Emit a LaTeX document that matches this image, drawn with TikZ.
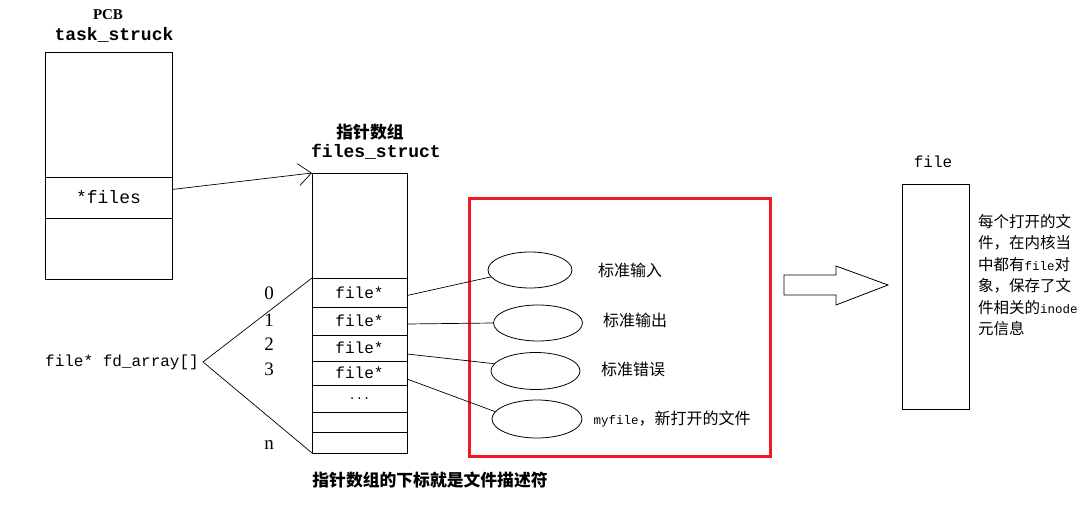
\documentclass[tikz,border=0pt]{standalone}
\usepackage{fontspec}
\setmainfont{Liberation Serif}
\setmonofont{Liberation Mono}
\newfontfamily\cjk{Noto Sans CJK SC}
\usetikzlibrary{arrows.meta, shapes.geometric, positioning}
\definecolor{framered}{HTML}{ED1C24}
\newcommand{\asc}[1]{{\fontsize{12.5}{12.5}\selectfont\ttfamily #1}}
\tikzset{
  cell/.style={
    rectangle, draw=black, line width=0.9pt, inner sep=0pt, outer sep=0pt,
    minimum width=127pt, font=\fontsize{18}{18}\selectfont\ttfamily
  },
  slot/.style={cell, minimum width=95pt, font=\fontsize{16}{16}\selectfont\ttfamily},
  handle/.style={ellipse, draw=black, line width=0.8pt, inner sep=0pt},
  headtitle/.style={font=\fontsize{18}{18}\selectfont\ttfamily\bfseries},
  cntitle/.style={font=\fontsize{16.8}{16.8}\selectfont\cjk\bfseries},
  cnlabel/.style={font=\fontsize{16}{16}\selectfont\cjk},
  index/.style={font=\fontsize{19}{19}\selectfont},
  link/.style={line width=0.7pt, color=black},
  ptrarrow/.style={-{Straight Barb[length=13pt, width=22pt, line width=0.7pt]}, line width=0.7pt},
}

\begin{document}
\begin{tikzpicture}[x=1pt, y=-1pt]
  \useasboundingbox (0,0) rectangle (1090,505);

  % PCB
  \node[font=\fontsize{15}{15}\selectfont\bfseries] (pcb) at (108,15) {PCB};
  \node[headtitle] (task) at (114,35) {task\_struck};
  \node[cell, minimum height=125pt] (pcbtop) at (108.5,114.5) {};
  \node[cell, minimum height=41pt, below=0pt of pcbtop] (pcbfiles) {*files};
  \node[cell, minimum height=61pt, below=0pt of pcbfiles] (pcbbot) {};

  % files_struct
  \node[cntitle] (fshead) at (370,132) {指针数组};
  \node[headtitle] (fsname) at (376,152) {files\_struct};
  \node[slot, minimum height=105pt] (fstop) at (359.5,225.5) {};
  \node[slot, minimum height=29pt, below=0pt of fstop] (row0) {file*};
  \node[slot, minimum height=28pt, below=0pt of row0] (row1) {file*};
  \node[slot, minimum height=26pt, below=0pt of row1] (row2) {file*};
  \node[slot, minimum height=24pt, below=0pt of row2] (row3) {file*};
  \node[slot, minimum height=27pt, below=0pt of row3,
    font=\fontsize{12}{12}\selectfont\ttfamily] (rowdots) {...};
  \node[slot, minimum height=20pt, below=0pt of rowdots] (rowa) {};
  \node[slot, minimum height=21pt, below=0pt of rowa] (rown) {};

  \node[index] (idx0) at (269,293) {0};
  \node[index] (idx1) at (269,320) {1};
  \node[index] (idx2) at (269,344) {2};
  \node[index] (idx3) at (269,369) {3};
  \node[index] (idxn) at (269,445) {n};

  \node[font=\fontsize{16}{16}\selectfont\ttfamily, inner xsep=4pt] (fdarr) at (122,362)
    {file* fd\_array[]};
  \draw[link] (fstop.south west) -- (fdarr.east) -- (rown.south west);

  \draw[ptrarrow] ([yshift=8pt]pcbfiles.east) -- (fstop.north west);

  % standard streams
  \node[draw=framered, line width=3pt, minimum width=301pt, minimum height=257pt,
    inner sep=0pt] (stdframe) at (619.5,327.5) {};
  \node[handle, minimum width=84pt, minimum height=36pt] (hin) at (530,270) {};
  \node[handle, minimum width=89pt, minimum height=36pt] (hout) at (538,323) {};
  \node[handle, minimum width=89pt, minimum height=37pt] (herr) at (535.5,371) {};
  \node[handle, minimum width=90pt, minimum height=38pt] (hmy) at (537,419) {};

  \node[cnlabel] (lin) at (630,270) {标准输入};
  \node[cnlabel] (lout) at (635,320) {标准输出};
  \node[cnlabel] (lerr) at (633,369) {标准错误};
  \node[cnlabel] (lmy) at (672,419) {\asc{myfile}，新打开的文件};

  \draw[link] ([yshift=-3pt]row0.east) -- (hin.190);
  \draw[link] ([yshift=-3pt]row1.east) -- (hout.west);
  \draw[link] ([yshift=-6pt]row2.east) -- (herr.170);
  \draw[link] ([yshift=-6pt]row3.east) -- (hmy.170);

  % file object
  \draw[line width=0.8pt] (784,275) -- (836,275) -- (836,266) -- (888,285)
    -- (836,305) -- (836,295) -- (784,295) -- cycle;
  \node[font=\fontsize{16}{16}\selectfont\ttfamily] (filehead) at (933,162) {file};
  \node[draw, line width=0.9pt, minimum width=67pt, minimum height=225pt,
    inner sep=0pt] (fileobj) at (935.5,296.5) {};
  \node[font=\fontsize{15.5}{21.5}\selectfont\cjk, align=left, anchor=north west,
    inner sep=0pt] (fileinfo) at (978,214)
    {每个打开的文\\件，在内核当\\中都有\asc{file}对\\象，保存了文\\件相关的\asc{inode}\\元信息};

  \node[cntitle] (caption) at (430,480) {指针数组的下标就是文件描述符};

\end{tikzpicture}
\end{document}
